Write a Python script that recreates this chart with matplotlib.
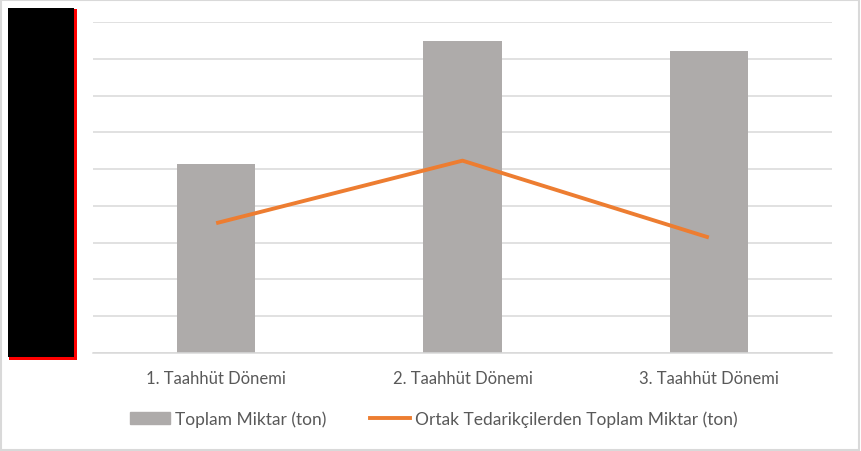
import matplotlib
matplotlib.use("Agg")
import matplotlib.pyplot as plt
from matplotlib.patches import Rectangle
from matplotlib.lines import Line2D
import numpy as np

categories = ["1. Taahhüt Dönemi", "2. Taahhüt Dönemi", "3. Taahhüt Dönemi"]
toplam = [5.14, 8.48, 8.21]
ortak = [3.53, 5.23, 3.14]
series_names = ["Toplam Miktar (ton)", "Ortak Tedarikçilerden Toplam Miktar (ton)"]

W, H = 861, 452
fig = plt.figure(figsize=(W/100, H/100), dpi=100)
fig.patch.set_facecolor("white")

def fx(px): return px / W
def fy(py): return 1 - py / H

FONT = ["Lato", "DejaVu Sans"]
FS = 12

ax = fig.add_axes([fx(93), fy(354), fx(832) - fx(93), fy(23) - fy(354)])
x = np.arange(len(categories))
ax.bar(x, toplam, width=0.317, color="#AEABAA", zorder=2)
ax.plot(x, ortak, color="#ED7D31", lw=2.8, solid_capstyle="butt", zorder=3)
ax.set_xlim(-0.5, 2.5)
ax.set_ylim(0, 9)
ax.set_yticks(np.arange(0, 10, 1))
ax.yaxis.grid(True, color="#D9D9D9", lw=1.1, zorder=0)
ax.set_axisbelow(True)
ax.tick_params(axis="y", left=False, labelleft=False)
ax.tick_params(axis="x", bottom=False, pad=9)
ax.set_xticks(x)
ax.set_xticklabels(categories, fontsize=FS, color="#595959", family=FONT)
for s in ["top", "right", "left"]:
    ax.spines[s].set_visible(False)
ax.spines["bottom"].set_color("#D9D9D9")
ax.spines["bottom"].set_linewidth(1.1)

handles = [Rectangle((0, 0), 1, 1, color="#AEABAA"),
           Line2D([0], [0], color="#ED7D31", lw=2.8)]
leg = fig.legend(handles, series_names, loc="center", ncol=2,
                 bbox_to_anchor=(fx(434), fy(420)), frameon=False,
                 prop={"family": FONT, "size": 12.5},
                 handlelength=2.3, handletextpad=0.3, columnspacing=2.5)
for t in leg.get_texts():
    t.set_color("#595959")

# redaction box over y-axis labels
fig.patches.append(Rectangle((fx(9), fy(361)), fx(77) - fx(9), fy(10) - fy(361),
                             transform=fig.transFigure, facecolor="#FF0000", edgecolor="none", zorder=10))
fig.patches.append(Rectangle((fx(8), fy(358)), fx(74) - fx(8), fy(9) - fy(358),
                             transform=fig.transFigure, facecolor="black", edgecolor="none", zorder=11))
# outer frame
fig.patches.append(Rectangle((0.001, 0.002), 0.997, 0.995, transform=fig.transFigure,
                             facecolor="none", edgecolor="#D9D9D9", lw=1.5, zorder=12))

fig.savefig("out.png", dpi=100, facecolor="white")
